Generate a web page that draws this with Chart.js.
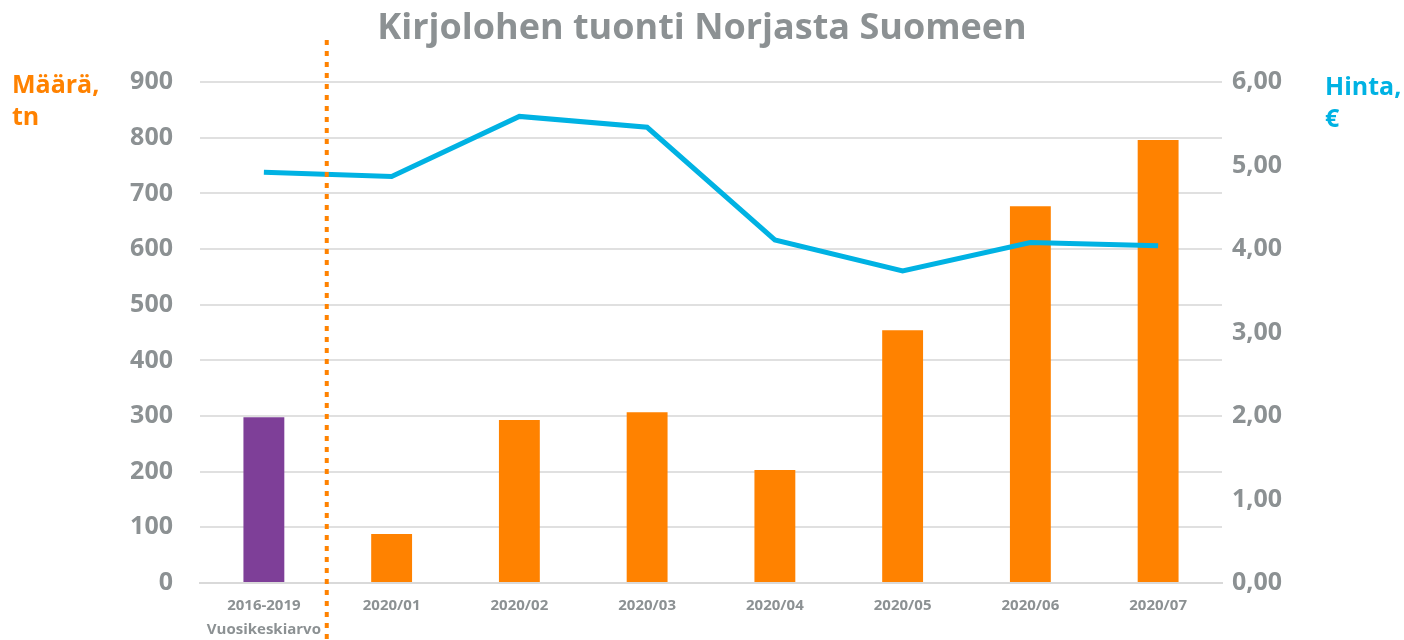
<!DOCTYPE html>
<html>
<head>
<meta charset="utf-8">
<script src="https://cdn.jsdelivr.net/npm/chart.js@4.4.0/dist/chart.umd.min.js"></script>
<style>
  body { margin: 0; background: #fff; }
  #wrap { width: 1404px; height: 640px; position: relative; }
</style>
</head>
<body>
<div id="wrap"><canvas id="chart"></canvas></div>
<script>
// Data
const categories = [['2016-2019', 'Vuosikeskiarvo'], '2020/01', '2020/02', '2020/03', '2020/04', '2020/05', '2020/06', '2020/07'];
const amounts = [298, 88, 293, 307, 203, 454, 677, 796];   // Määrä, tn
const prices = [4.92, 4.87, 5.59, 5.46, 4.11, 3.74, 4.08, 4.04]; // Hinta, €

const ORANGE = '#ff8200';
const PURPLE = '#7e3f98';
const BLUE = '#00b2e3';
const GREY = '#8c9193';
const FONT = "'Open Sans', sans-serif";

// first bar is the long-term average, drawn purple
const barColors = amounts.map((v, i) => i === 0 ? PURPLE : ORANGE);

// dotted separator between the average and the monthly bars, plus the axis titles
const extras = {
    id: 'extras',
    afterDatasetsDraw(chart) {
        const ctx = chart.ctx;
        const x = chart.scales.x;
        const sepX = (x.getPixelForValue(0) + x.getPixelForValue(1)) / 2 - 1;
        ctx.save();
        ctx.strokeStyle = ORANGE;
        ctx.lineWidth = 4;
        ctx.setLineDash([5, 6]);
        ctx.beginPath();
        ctx.moveTo(sepX, 40);
        ctx.lineTo(sepX, chart.height);
        ctx.stroke();
        ctx.restore();
    },
    afterDraw(chart) {
        const ctx = chart.ctx;
        ctx.save();
        ctx.font = "bold 25px " + FONT;
        ctx.textBaseline = 'middle';
        ctx.textAlign = 'left';
        ctx.fillStyle = ORANGE;
        ctx.fillText('Määrä,', 12, 86);
        ctx.fillText('tn', 12, 118);
        ctx.fillStyle = BLUE;
        ctx.fillText('Hinta,', 1325, 88);
        ctx.fillText('€', 1325, 120);
        ctx.restore();
    }
};

new Chart(document.getElementById('chart'), {
    type: 'bar',
    data: {
        labels: categories,
        datasets: [
            {
                type: 'line',
                label: 'Hinta',
                data: prices,
                yAxisID: 'y2',
                borderColor: BLUE,
                borderWidth: 5,
                pointRadius: 0,
                tension: 0,
                order: 0,
            },
            {
                label: 'Määrä',
                data: amounts,
                yAxisID: 'y',
                backgroundColor: barColors,
                categoryPercentage: 1,
                barPercentage: 0.32,
                order: 1,
            },
        ],
    },
    options: {
        responsive: true,
        maintainAspectRatio: false,
        animation: false,
        layout: { padding: 0 },
        plugins: {
            legend: { display: false },
            tooltip: { enabled: false },
            title: {
                display: true,
                text: 'Kirjolohen tuonti Norjasta Suomeen',
                color: GREY,
                font: { family: FONT, size: 36, weight: 'bold' },
                padding: { top: 7, bottom: 32 },
            },
        },
        scales: {
            x: {
                grid: { display: false, drawTicks: false },
                border: { color: '#d9d9d9', width: 2 },
                ticks: {
                    color: GREY,
                    font: { family: FONT, size: 15, weight: 'bold', lineHeight: 1.6 },
                    padding: 11,
                    maxRotation: 0,
                },
                afterFit(scale) { scale.height = 57; },
            },
            y: {
                position: 'left',
                min: 0,
                max: 900,
                ticks: {
                    stepSize: 100,
                    color: GREY,
                    font: { family: FONT, size: 25, weight: 'bold' },
                    padding: 27,
                },
                grid: { color: '#e0e0e0', lineWidth: 2, drawTicks: false },
                border: { display: false },
                afterFit(scale) { scale.width = 200; },
            },
            y2: {
                position: 'right',
                min: 0,
                max: 6,
                ticks: {
                    stepSize: 1,
                    color: GREY,
                    font: { family: FONT, size: 25, weight: 'bold' },
                    padding: 10,
                    callback: (v) => v.toFixed(2).replace('.', ','),
                },
                grid: { display: false, drawTicks: false },
                border: { display: false },
                afterFit(scale) { scale.width = 182; },
            },
        },
    },
    plugins: [extras],
});
</script>
</body>
</html>
